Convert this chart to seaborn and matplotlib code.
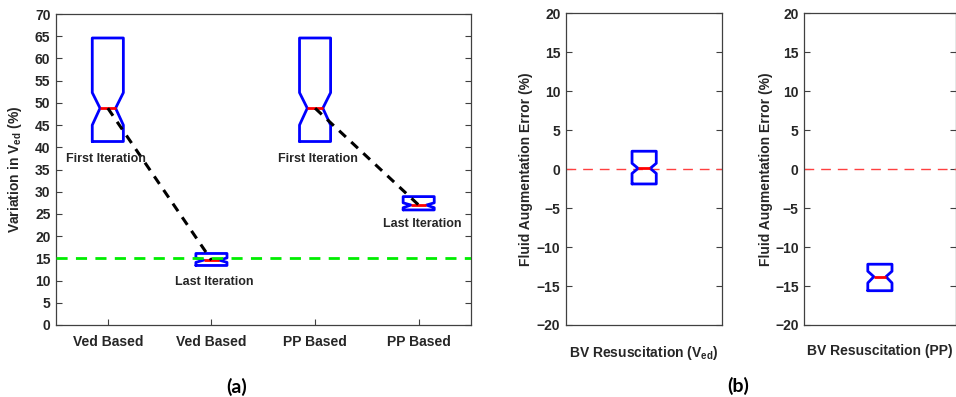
import numpy as np
import pandas as pd
import matplotlib
matplotlib.use("Agg")
import matplotlib.pyplot as plt
import seaborn as sns

# ---------------- data ----------------
a_labels = ["Ved Based", "Ved Based", "PP Based", "PP Based"]
a_q1 = [41.3, 13.4, 41.3, 25.9]
a_med = [48.8, 14.6, 48.8, 27.0]
a_q3 = [64.6, 16.1, 64.6, 28.9]
a_notch_lo = [45.0, 14.1, 45.0, 26.4]
a_notch_hi = [52.3, 15.1, 52.3, 27.5]
a_target = 15.0
a_texts = ["First Iteration", "Last Iteration", "First Iteration", "Last Iteration"]
a_text_x = [0.98, 2.03, 3.03, 4.03]
a_text_y = [37.4, 9.7, 37.4, 22.7]

b_labels = [r"BV Resuscitation ($\mathbf{V_{ed}}$)", "BV Resuscitation (PP)"]
b_q1 = [-1.9, -15.6]
b_med = [0.1, -13.8]
b_q3 = [2.3, -12.2]
b_notch_lo = [-0.55, -14.6]
b_notch_hi = [0.75, -13.1]

# ---------------- style ----------------
sns.set_theme(style="ticks")
plt.rcParams["font.family"] = ["Liberation Sans", "DejaVu Sans"]
plt.rcParams["font.weight"] = "bold"
plt.rcParams["mathtext.fontset"] = "custom"
plt.rcParams["mathtext.rm"] = "Liberation Sans:bold"
plt.rcParams["mathtext.bf"] = "Liberation Sans:bold"
plt.rcParams["mathtext.it"] = "Liberation Sans:bold"

SPINE = "#404040"
TXT = "#262626"
BLUE = "#0000ff"
RED = "#ff0000"

fig = plt.figure(figsize=(9.56, 3.97), dpi=100)
W, H = 956.0, 397.0


def add_ax(x0, x1, ytop, ybot):
    return fig.add_axes([x0 / W, 1 - ybot / H, (x1 - x0) / W, (ybot - ytop) / H])


def style_ax(ax):
    for s in ax.spines.values():
        s.set_color(SPINE)
        s.set_linewidth(0.9)
        s.set_visible(True)
    ax.tick_params(axis="both", direction="in", length=4, width=0.8,
                   color=SPINE, labelsize=10, labelcolor=TXT, pad=4)
    ax.tick_params(axis="y", right=True, left=True)
    for lab in ax.get_xticklabels() + ax.get_yticklabels():
        lab.set_fontweight("bold")


def draw_boxes(ax, pos, q1, med, q3, lo, hi, width):
    stats = []
    for i in range(len(pos)):
        stats.append(dict(med=med[i], q1=q1[i], q3=q3[i], cilo=lo[i], cihi=hi[i],
                          whislo=q1[i], whishi=q3[i], fliers=[]))
    ax.bxp(stats, positions=pos, widths=width, shownotches=True, showcaps=False,
           showfliers=False, patch_artist=False,
           boxprops=dict(color=BLUE, linewidth=2.0),
           whiskerprops=dict(color=BLUE, linewidth=2.0),
           medianprops=dict(color=RED, linewidth=2.0),
           manage_ticks=False)


# ---------------- panel (a) ----------------
axa = add_ax(56, 470.5, 14, 325)
pos = [1, 2, 3, 4]
draw_boxes(axa, pos, a_q1, a_med, a_q3, a_notch_lo, a_notch_hi, 0.3)

conn = pd.DataFrame({"x": [1, 2, 3, 4], "y": a_med, "grp": ["v", "v", "p", "p"]})
for g in ["v", "p"]:
    sub = conn[conn["grp"] == g]
    sns.lineplot(data=sub, x="x", y="y", ax=axa, color="black", linewidth=2.2,
                 dashes=False, linestyle=(0, (3.0, 2.4)), zorder=3, legend=False)

axa.axhline(a_target, color="#00ee00", linewidth=2.0, linestyle=(0, (4, 3)), zorder=4)

for t, x, y in zip(a_texts, a_text_x, a_text_y):
    axa.text(x, y, t, ha="center", va="center", fontsize=9, fontweight="bold",
             color=TXT, zorder=5)

axa.set_xlim(0.5, 4.5)
axa.set_ylim(0, 70)
axa.set_yticks(np.arange(0, 71, 5))
axa.set_xticks(pos)
axa.set_xticklabels(a_labels)
axa.set_xlabel("")
axa.set_ylabel(r"Variation in $\mathbf{V_{ed}}$ (%)", fontsize=10, fontweight="bold", color=TXT)
style_ax(axa)
axa.tick_params(axis="x", pad=7)
axa.yaxis.set_label_coords(-0.077, 0.5)

# ---------------- panel (b) ----------------
b_axes = [add_ax(566, 722.3, 13.3, 325), add_ax(804.3, 955.5, 13.3, 325)]
for i, ax in enumerate(b_axes):
    draw_boxes(ax, [0], [b_q1[i]], [b_med[i]], [b_q3[i]], [b_notch_lo[i]],
               [b_notch_hi[i]], 0.155 if i == 0 else 0.16)
    ax.axhline(0, color="#ff4040", linewidth=1.0, linestyle=(0, (7, 5)), zorder=1)
    ax.set_xlim(-0.5, 0.5)
    ax.set_ylim(-20, 20)
    ax.set_yticks(np.arange(-20, 21, 5))
    ax.set_xticks([])
    ax.set_ylabel("Fluid Augmentation Error (%)", fontsize=10, fontweight="bold", color=TXT)
    ax.set_xlabel(b_labels[i], fontsize=10, fontweight="bold", color=TXT)
    style_ax(ax)
    ax.xaxis.set_label_coords(0.5, -0.062)
    ax.yaxis.set_label_coords(-0.21, 0.5)

fig.text(237 / W, 1 - 387 / H, "(a)", ha="center", va="center", fontsize=14,
         fontweight="bold", family=["Lato", "DejaVu Sans"], color="black")
fig.text(738 / W, 1 - 386 / H, "(b)", ha="center", va="center", fontsize=14,
         fontweight="bold", family=["Lato", "DejaVu Sans"], color="black")

fig.savefig("out.png", dpi=100)
